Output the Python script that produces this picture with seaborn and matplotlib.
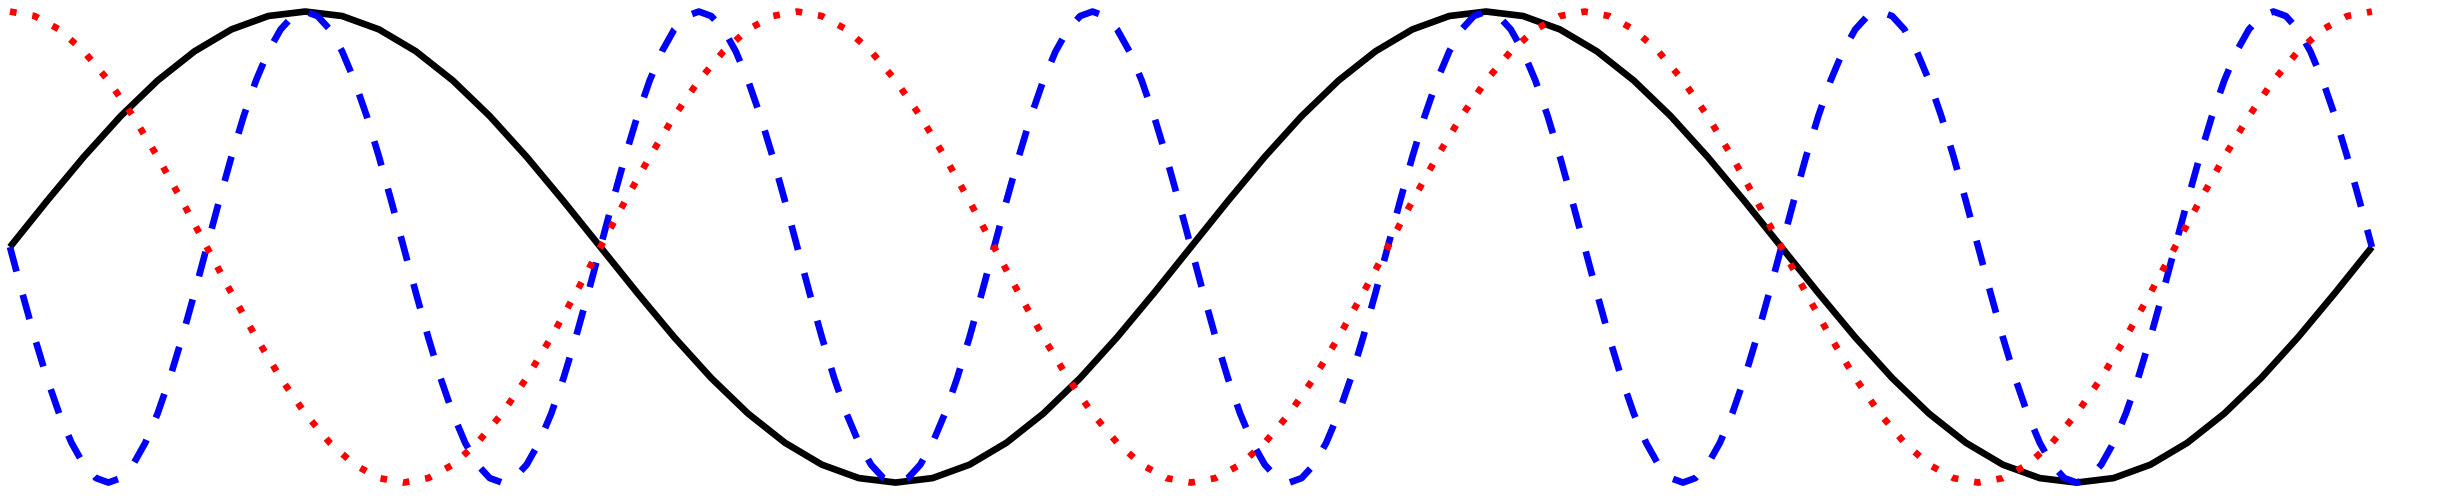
import numpy as np
import pandas as pd
import matplotlib
matplotlib.use("Agg")
import matplotlib.pyplot as plt
import seaborn as sns

# ─── DATA (x in sample units 0..192) ────────────────────────────────────────
# solid black wave: 2 full cycles
x_black = list(range(0, 193, 3))
y_black = [
    0, 0.195, 0.383, 0.556, 0.707, 0.831, 0.924, 0.981, 1.0, 0.981, 0.924, 0.831, 0.707, 0.556, 0.383, 0.195,
    0, -0.195, -0.383, -0.556, -0.707, -0.831, -0.924, -0.981, -1.0, -0.981, -0.924, -0.831, -0.707, -0.556, -0.383, -0.195,
    0, 0.195, 0.383, 0.556, 0.707, 0.831, 0.924, 0.981, 1.0, 0.981, 0.924, 0.831, 0.707, 0.556, 0.383, 0.195,
    0, -0.195, -0.383, -0.556, -0.707, -0.831, -0.924, -0.981, -1.0, -0.981, -0.924, -0.831, -0.707, -0.556, -0.383, -0.195,
    0,
]

# dotted red wave: 3 full cycles, starts at the top
x_red = list(range(0, 193, 2))
y_red = [
    1.0, 0.981, 0.924, 0.831, 0.707, 0.556, 0.383, 0.195, 0, -0.195, -0.383, -0.556, -0.707, -0.831, -0.924, -0.981,
    -1.0, -0.981, -0.924, -0.831, -0.707, -0.556, -0.383, -0.195, 0, 0.195, 0.383, 0.556, 0.707, 0.831, 0.924, 0.981,
    1.0, 0.981, 0.924, 0.831, 0.707, 0.556, 0.383, 0.195, 0, -0.195, -0.383, -0.556, -0.707, -0.831, -0.924, -0.981,
    -1.0, -0.981, -0.924, -0.831, -0.707, -0.556, -0.383, -0.195, 0, 0.195, 0.383, 0.556, 0.707, 0.831, 0.924, 0.981,
    1.0, 0.981, 0.924, 0.831, 0.707, 0.556, 0.383, 0.195, 0, -0.195, -0.383, -0.556, -0.707, -0.831, -0.924, -0.981,
    -1.0, -0.981, -0.924, -0.831, -0.707, -0.556, -0.383, -0.195, 0, 0.195, 0.383, 0.556, 0.707, 0.831, 0.924, 0.981,
    1.0,
]

# dashed blue wave: 6 full cycles, starts going down
x_blue = list(range(0, 193))
y_blue = [
    0, -0.195, -0.383, -0.556, -0.707, -0.831, -0.924, -0.981, -1.0, -0.981, -0.924, -0.831, -0.707, -0.556, -0.383, -0.195,
    0, 0.195, 0.383, 0.556, 0.707, 0.831, 0.924, 0.981, 1.0, 0.981, 0.924, 0.831, 0.707, 0.556, 0.383, 0.195,
    0, -0.195, -0.383, -0.556, -0.707, -0.831, -0.924, -0.981, -1.0, -0.981, -0.924, -0.831, -0.707, -0.556, -0.383, -0.195,
    0, 0.195, 0.383, 0.556, 0.707, 0.831, 0.924, 0.981, 1.0, 0.981, 0.924, 0.831, 0.707, 0.556, 0.383, 0.195,
    0, -0.195, -0.383, -0.556, -0.707, -0.831, -0.924, -0.981, -1.0, -0.981, -0.924, -0.831, -0.707, -0.556, -0.383, -0.195,
    0, 0.195, 0.383, 0.556, 0.707, 0.831, 0.924, 0.981, 1.0, 0.981, 0.924, 0.831, 0.707, 0.556, 0.383, 0.195,
    0, -0.195, -0.383, -0.556, -0.707, -0.831, -0.924, -0.981, -1.0, -0.981, -0.924, -0.831, -0.707, -0.556, -0.383, -0.195,
    0, 0.195, 0.383, 0.556, 0.707, 0.831, 0.924, 0.981, 1.0, 0.981, 0.924, 0.831, 0.707, 0.556, 0.383, 0.195,
    0, -0.195, -0.383, -0.556, -0.707, -0.831, -0.924, -0.981, -1.0, -0.981, -0.924, -0.831, -0.707, -0.556, -0.383, -0.195,
    0, 0.195, 0.383, 0.556, 0.707, 0.831, 0.924, 0.981, 1.0, 0.981, 0.924, 0.831, 0.707, 0.556, 0.383, 0.195,
    0, -0.195, -0.383, -0.556, -0.707, -0.831, -0.924, -0.981, -1.0, -0.981, -0.924, -0.831, -0.707, -0.556, -0.383, -0.195,
    0, 0.195, 0.383, 0.556, 0.707, 0.831, 0.924, 0.981, 1.0, 0.981, 0.924, 0.831, 0.707, 0.556, 0.383, 0.195,
    0,
]

df_black = pd.DataFrame({"x": x_black, "y": y_black})
df_red = pd.DataFrame({"x": x_red, "y": y_red})
df_blue = pd.DataFrame({"x": x_blue, "y": y_blue})

# ─── PLOT ───────────────────────────────────────────────────────────────────
sns.set_style("white")
fig = plt.figure(figsize=(24.42, 5), dpi=100)
ax = fig.add_axes([0, 0, 1, 1])

lw = 4.8
sns.lineplot(data=df_black, x="x", y="y", ax=ax, color="black", linewidth=lw,
             errorbar=None, solid_capstyle="butt")
sns.lineplot(data=df_blue, x="x", y="y", ax=ax, color="#0000ff", linewidth=lw,
             errorbar=None, linestyle=(0, (3.8, 3.6)))
sns.lineplot(data=df_red, x="x", y="y", ax=ax, color="#ff0000", linewidth=lw,
             errorbar=None, linestyle=(0, (1, 2.4)))

ax.set_xlim(-0.81, 197.7)
ax.set_ylim(-1.074, 1.049)
ax.set_axis_off()

fig.savefig("out.png", dpi=100, facecolor="white")
